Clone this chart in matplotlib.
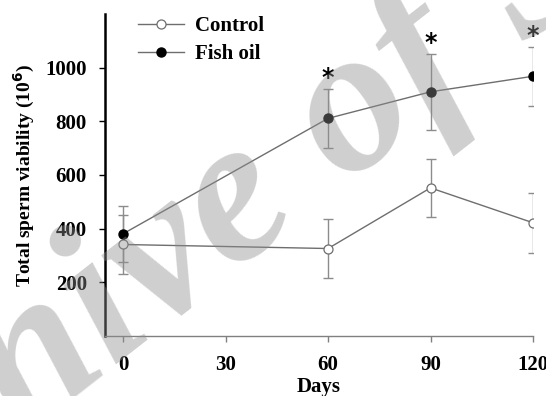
import matplotlib
matplotlib.use("Agg")
import matplotlib.pyplot as plt
import numpy as np

days = [0, 60, 90, 120]
control = [341, 326, 552, 422]
control_err = [110, 110, 109, 111]
fish_oil = [381, 811, 910, 968]
fish_err = [105, 110, 141, 110]
sig = [False, True, True, True]
xticks = [0, 30, 60, 90, 120]
yticks = [200, 400, 600, 800, 1000]

W, H = 546, 396
fig = plt.figure(figsize=(W / 100, H / 100), dpi=100)
l, r, t, b = 105, 533, 14, 336
ax = fig.add_axes([l / W, 1 - b / H, (r - l) / W, (b - t) / H])
ax.set_xlim(-5.3, 120)
ax.set_ylim(0, 1200)

serif = "Liberation Serif"
line_c = "#6e6e6e"
err_c = "#8c8c8c"

ax.errorbar(days, control, yerr=control_err, fmt="none", ecolor=err_c,
            elinewidth=1, capsize=3.5, capthick=1, zorder=2)
ax.errorbar(days, fish_oil, yerr=fish_err, fmt="none", ecolor=err_c,
            elinewidth=1, capsize=3.5, capthick=1, zorder=2)
ax.plot(days, control, "-o", color=line_c, lw=1, mfc="white", mec=line_c,
        ms=6.5, mew=0.9, label="Control", zorder=3)
ax.plot(days, fish_oil, "-o", color=line_c, lw=1, mfc="black", mec="black",
        ms=6.5, label="Fish oil", zorder=3)

for d, v, e, s in zip(days, fish_oil, fish_err, sig):
    if s:
        ax.annotate("*", (d, v + e), xytext=(0, -1), textcoords="offset points",
                    ha="center", va="bottom", fontsize=17, fontweight="bold",
                    family="DejaVu Sans")

for sp in ["top", "right"]:
    ax.spines[sp].set_visible(False)
ax.spines["left"].set_linewidth(1.8)
ax.spines["left"].set_color("black")
ax.spines["bottom"].set_linewidth(1)
ax.spines["bottom"].set_color("#808080")

ax.set_xticks(xticks)
ax.set_yticks(yticks)
ax.tick_params(axis="x", colors="#808080", length=4, width=1, labelcolor="black", pad=10)
ax.tick_params(axis="y", colors="black", length=4, width=1, pad=9)
for lab in ax.get_xticklabels() + ax.get_yticklabels():
    lab.set_fontfamily(serif)
    lab.set_fontweight("bold")
    lab.set_fontsize(15)

ax.set_xlabel("Days", fontfamily=serif, fontweight="bold", fontsize=15, labelpad=1)
ax.set_ylabel("Total sperm viability (10$^{\\mathbf{6}}$)", fontfamily=serif,
              fontweight="bold", fontsize=14, labelpad=6)

leg = ax.legend(loc="upper left", bbox_to_anchor=(138 / W, 1 - 16 / H),
                bbox_transform=fig.transFigure, frameon=False, borderpad=0,
                borderaxespad=0, handlelength=2.2, handletextpad=0.55,
                labelspacing=0.38, prop={"family": serif, "weight": "bold", "size": 15})

fig.text(257 / W, 1 - 198 / H, "Archive of SID", fontsize=150, family=serif,
         style="italic", weight="bold", color="#8d8d8d", alpha=0.42,
         rotation=38, ha="center", va="center", zorder=10)

fig.savefig("out.png", dpi=100)
